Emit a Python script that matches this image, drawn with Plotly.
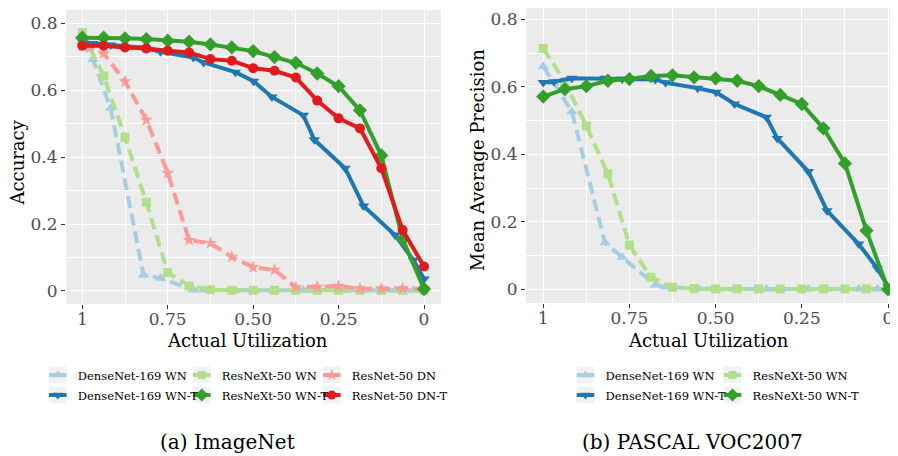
import plotly.graph_objects as go

# page is shown with the browser's default 8px body margin, so the figure is
# laid out in page pixels and shifted by OFF
OFF = 8
W, H = 890, 448

# ---------------- data ----------------
# actual utilization (x) values
util_even = [1.0, 0.9375, 0.875, 0.8125, 0.75, 0.6875, 0.625, 0.5625, 0.5,
             0.4375, 0.375, 0.3125, 0.25, 0.1875, 0.125, 0.0625, 0.0]
util_densenet = [1.0, 0.969, 0.917, 0.821, 0.771, 0.675, 0.645, 0.552, 0.499,
                 0.445, 0.353, 0.321, 0.231, 0.177, 0.085, 0.031, 0.0]

# (a) ImageNet accuracy
in_densenet_wn = [0.745, 0.692, 0.546, 0.048, 0.038, 0.003, 0.003, 0.002, 0.002,
                  0.002, 0.002, 0.002, 0.002, 0.002, 0.002, 0.002, 0.002]
in_resnext_wn = [0.772, 0.643, 0.459, 0.265, 0.055, 0.015, 0.004, 0.002, 0.002,
                 0.002, 0.002, 0.002, 0.002, 0.002, 0.002, 0.002, 0.002]
in_resnet_dn = [0.733, 0.71, 0.626, 0.511, 0.353, 0.152, 0.143, 0.102, 0.071,
                0.063, 0.011, 0.012, 0.015, 0.007, 0.007, 0.008, 0.007]
in_densenet_wnt = [0.745, 0.740, 0.735, 0.727, 0.715, 0.698, 0.683, 0.654, 0.627,
                   0.580, 0.525, 0.452, 0.367, 0.254, 0.167, 0.092, 0.036]
in_resnext_wnt = [0.757, 0.757, 0.755, 0.753, 0.748, 0.745, 0.737, 0.728, 0.717,
                  0.699, 0.682, 0.650, 0.612, 0.540, 0.405, 0.155, 0.006]
in_resnet_dnt = [0.733, 0.733, 0.728, 0.725, 0.718, 0.713, 0.693, 0.688, 0.666,
                 0.658, 0.638, 0.569, 0.516, 0.486, 0.367, 0.182, 0.073]

# (b) PASCAL VOC2007 mean average precision
voc_densenet_wn = [0.660, 0.612, 0.526, 0.138, 0.095, 0.013, 0.007, 0.002, 0.001,
                   0.001, 0.001, 0.001, 0.001, 0.001, 0.001, 0.001, 0.001]
voc_resnext_wn = [0.714, 0.615, 0.484, 0.342, 0.131, 0.036, 0.006, 0.002, 0.001,
                  0.001, 0.001, 0.001, 0.001, 0.001, 0.001, 0.001, 0.001]
voc_densenet_wnt = [0.613, 0.615, 0.625, 0.625, 0.623, 0.622, 0.612, 0.596, 0.584,
                    0.549, 0.510, 0.447, 0.349, 0.233, 0.134, 0.062, 0.008]
voc_resnext_wnt = [0.571, 0.593, 0.602, 0.618, 0.623, 0.632, 0.634, 0.628, 0.625,
                   0.618, 0.602, 0.576, 0.549, 0.477, 0.373, 0.174, 0.0]

x_tickvals = [1, 0.75, 0.5, 0.25, 0]
x_ticktext = ["1", "0.75", "0.50", "0.25", "0"]
y_tickvals = [0, 0.2, 0.4, 0.6, 0.8]
y_ticktext = ["0", "0.2", "0.4", "0.6", "0.8"]

# ---------------- styles ----------------
C_LB, C_DB = "#a6cee3", "#1f78b4"
C_LG, C_DG = "#b2df8a", "#33a02c"
C_PK, C_RD = "#fb9a99", "#e31a1c"
DASH = "12px,6px"
SERIF = "DejaVu Serif"


def px_x(p):
    return min(1.0, max(0.0, (p - OFF) / W))


def px_y(p):
    return min(1.0, max(0.0, 1 - (p - OFF) / H))


fig = go.Figure()


def add(x, y, name, color, symbol, dash, axis, msize=10):
    fig.add_trace(go.Scatter(
        x=x, y=y, name=name, mode="lines+markers", showlegend=False,
        line=dict(color=color, width=4, dash=dash),
        marker=dict(color=color, symbol=symbol, size=msize),
        xaxis="x" if axis == 1 else "x2",
        yaxis="y" if axis == 1 else "y2",
    ))


# ImageNet panel (dashed first, then solid)
add(util_densenet, in_densenet_wn, "DenseNet-169 WN", C_LB, "triangle-up", DASH, 1)
add(util_even, in_resnext_wn, "ResNeXt-50 WN", C_LG, "square", DASH, 1, 9)
add(util_even, in_resnet_dn, "ResNet-50 DN", C_PK, "star", DASH, 1, 10)
add(util_densenet, in_densenet_wnt, "DenseNet-169 WN-T", C_DB, "triangle-down", "solid", 1)
add(util_even, in_resnext_wnt, "ResNeXt-50 WN-T", C_DG, "diamond", "solid", 1, 11)
add(util_even, in_resnet_dnt, "ResNet-50 DN-T", C_RD, "circle", "solid", 1)

# VOC panel
add(util_densenet, voc_densenet_wn, "DenseNet-169 WN", C_LB, "triangle-up", DASH, 2)
add(util_even, voc_resnext_wn, "ResNeXt-50 WN", C_LG, "square", DASH, 2, 9)
add(util_densenet, voc_densenet_wnt, "DenseNet-169 WN-T", C_DB, "triangle-down", "solid", 2)
add(util_even, voc_resnext_wnt, "ResNeXt-50 WN-T", C_DG, "diamond", "solid", 2, 11)

# legend entries: (name, colour, symbol, marker size, text-left px, row-centre px)
ROW1, ROW2 = 375, 395
legend_items = [
    ("DenseNet-169 WN", C_LB, "triangle-up", 9, 74.3, ROW1),
    ("DenseNet-169 WN-T", C_DB, "triangle-down", 9, 74.3, ROW2),
    ("ResNeXt-50 WN", C_LG, "square", 8, 218.3, ROW1),
    ("ResNeXt-50 WN-T", C_DG, "diamond", 10, 218.3, ROW2),
    ("ResNet-50 DN", C_PK, "star", 9, 348.3, ROW1),
    ("ResNet-50 DN-T", C_RD, "circle", 9, 348.3, ROW2),
    ("DenseNet-169 WN", C_LB, "triangle-up", 9, 602, ROW1),
    ("DenseNet-169 WN-T", C_DB, "triangle-down", 9, 602, ROW2),
    ("ResNeXt-50 WN", C_LG, "square", 8, 749, ROW1),
    ("ResNeXt-50 WN-T", C_DG, "diamond", 10, 749, ROW2),
]

legends = {}
shapes = []
for i, (name, color, symbol, ms, tx, ty) in enumerate(legend_items):
    key = "legend" if i == 0 else "legend%d" % (i + 1)
    text_left = tx + 3.5
    fig.add_trace(go.Scatter(
        x=[None], y=[None], name=name, mode="markers", legend=key,
        marker=dict(color=color, symbol=symbol, size=ms),
        xaxis="x", yaxis="y", hoverinfo="skip",
    ))
    legends[key] = dict(orientation="v", x=px_x(text_left - 40), y=px_y(ty),
                        xanchor="left", yanchor="middle", bgcolor="rgba(0,0,0,0)",
                        borderwidth=0, itemwidth=30,
                        font=dict(family=SERIF, size=11.5, color="black"))
    mc = text_left - 20  # legend marker centre
    shapes.append(dict(type="rect", xref="paper", yref="paper",
                       x0=px_x(mc - 8.8), x1=px_x(mc + 8.8),
                       y0=px_y(ty + 8.3), y1=px_y(ty - 8.3),
                       fillcolor="#f2f2f2", line=dict(width=0), layer="below"))
    shapes.append(dict(type="line", xref="paper", yref="paper",
                       x0=px_x(mc - 8.8), x1=px_x(mc + 8.8),
                       y0=px_y(ty), y1=px_y(ty),
                       line=dict(color=color, width=4), layer="above"))


def xaxis(domain, rng, anchor):
    return dict(domain=domain, range=rng, anchor=anchor,
                tickmode="array", tickvals=x_tickvals, ticktext=x_ticktext,
                ticks="outside", ticklen=4, tickwidth=1, tickcolor="#333333",
                ticklabelstandoff=-4,
                tickfont=dict(family=SERIF, size=17, color="#4d4d4d"),
                showgrid=True, gridcolor="white", gridwidth=1.4,
                zeroline=False, showline=False,
                minor=dict(tickmode="array", tickvals=[0.875, 0.625, 0.375, 0.125],
                           showgrid=True, gridcolor="white", gridwidth=0.7, ticks=""))


def yaxis(domain, rng, anchor):
    return dict(domain=domain, range=rng, anchor=anchor,
                tickmode="array", tickvals=y_tickvals, ticktext=y_ticktext,
                ticks="outside", ticklen=4, tickwidth=1, tickcolor="#333333",
                tickfont=dict(family=SERIF, size=17, color="#4d4d4d"),
                showgrid=True, gridcolor="white", gridwidth=1.4,
                zeroline=False, showline=False,
                minor=dict(tickmode="array", tickvals=[0.1, 0.3, 0.5, 0.7],
                           showgrid=True, gridcolor="white", gridwidth=0.7, ticks=""))


def ann(text, xp, yp, size, angle=0):
    return dict(text=text, x=px_x(xp), y=px_y(yp), xref="paper", yref="paper",
                showarrow=False, xanchor="center", yanchor="middle", textangle=angle,
                font=dict(family=SERIF, size=size, color="black"))


fig.update_layout(
    width=W, height=H,
    margin=dict(l=0, r=0, t=0, b=0),
    paper_bgcolor="white", plot_bgcolor="#ebebeb",
    xaxis=xaxis([px_x(66), px_x(441)], [1.0477, -0.0497], "y"),
    yaxis=yaxis([px_y(304), px_y(10)], [-0.0389, 0.8398], "x"),
    xaxis2=xaxis([px_x(526), 1.0], [1.050, -0.029], "y2"),
    # right panel top is at page y=8 (reference top at 6 is hidden by the margin)
    yaxis2=yaxis([px_y(303), 1.0], [-0.0406, 0.8335], "x2"),
    shapes=shapes,
    annotations=[
        ann("Accuracy", 17.5, 163, 18, -90),
        ann("Mean Average Precision", 477.5, 160.7, 18, -90),
        ann("Actual Utilization", 247, 340, 18),
        ann("Actual Utilization", 708, 340, 18),
        ann("(a) ImageNet", 227, 442, 20),
        ann("(b) PASCAL VOC2007", 692, 442, 20),
    ],
    **legends,
)

fig.write_html("out.html")
